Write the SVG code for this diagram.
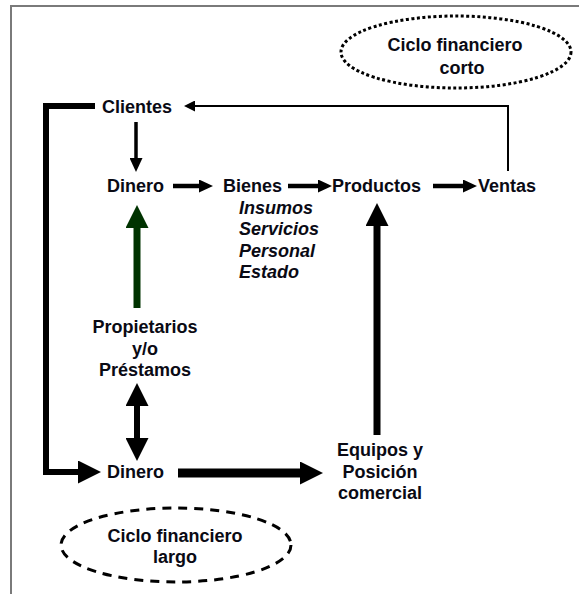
<svg xmlns="http://www.w3.org/2000/svg" width="579" height="594" viewBox="0 0 579 594">
  <style>
    .t { font-family: "Liberation Sans", Arial, sans-serif; font-weight: bold; font-size: 18px; fill: #0a0a14; }
    .i { font-style: italic; }
    .m { text-anchor: middle; }
    .ln { fill: none; stroke: #000; stroke-linejoin: miter; stroke-linecap: butt; }
    .ln.g { stroke: #003300; }
  </style>
  <defs>
    <marker id="hS" markerUnits="userSpaceOnUse" markerWidth="14" markerHeight="13" refX="0" refY="6.5" orient="auto">
      <path d="M0,0 L14,6.5 L0,13 z" fill="#000"/>
    </marker>
    <marker id="hT" markerUnits="userSpaceOnUse" markerWidth="11" markerHeight="11" refX="0" refY="5.5" orient="auto">
      <path d="M0,0 L11,5.5 L0,11 z" fill="#000"/>
    </marker>
    <marker id="hL" markerUnits="userSpaceOnUse" markerWidth="23" markerHeight="23" refX="0" refY="11.5" orient="auto-start-reverse">
      <path d="M0,0 L23,11.5 L0,23 z" fill="#000"/>
    </marker>
    <marker id="hG" markerUnits="userSpaceOnUse" markerWidth="23" markerHeight="23" refX="0" refY="11.5" orient="auto">
      <path d="M0,0 L23,11.5 L0,23 z" fill="#003300"/>
    </marker>
  </defs>
  <rect width="579" height="594" fill="#fff"/>
  <g id="frame">
    <path d="M11,594 L11,6 L579,6" fill="none" stroke="#7a7a7a" stroke-width="2"/>
  </g>
  <g id="connectors">
    <line class="ln" x1="136" y1="122" x2="136" y2="158" stroke-width="3.5" marker-end="url(#hS)"/>
    <line class="ln" x1="173" y1="186" x2="199" y2="186" stroke-width="4.5" marker-end="url(#hS)"/>
    <line class="ln" x1="288" y1="186" x2="318" y2="186" stroke-width="4.5" marker-end="url(#hS)"/>
    <line class="ln" x1="433" y1="186" x2="463" y2="186" stroke-width="4.5" marker-end="url(#hS)"/>
    <polyline class="ln" points="508,171 508,106 195,106" stroke-width="2" marker-end="url(#hT)"/>
    <line class="ln g" x1="137" y1="308" x2="137" y2="228" stroke-width="7" marker-end="url(#hG)"/>
    <line class="ln" x1="137" y1="406" x2="137" y2="438" stroke-width="6" marker-start="url(#hL)" marker-end="url(#hL)"/>
    <polyline class="ln" points="95,106 46,106 46,472 78,472" stroke-width="6" marker-end="url(#hL)"/>
    <line class="ln" x1="178" y1="473" x2="300" y2="473" stroke-width="9" marker-end="url(#hL)"/>
    <line class="ln" x1="377" y1="435" x2="377" y2="226" stroke-width="7" marker-end="url(#hL)"/>
  </g>
  <g id="ciclo-corto">
    <ellipse cx="456" cy="52" rx="115" ry="36" fill="none" stroke="#000" stroke-width="3" stroke-dasharray="3 2.5"/>
    <text class="t m" x="455" y="51">Ciclo financiero</text>
    <text class="t m" x="462" y="74">corto</text>
  </g>
  <g id="clientes"><text class="t" x="102" y="112.5">Clientes</text></g>
  <g id="dinero1"><text class="t" x="107" y="191.5">Dinero</text></g>
  <g id="bienes">
    <text class="t" x="223" y="191.5">Bienes</text>
    <text class="t i" x="239" y="214">Insumos</text>
    <text class="t i" x="239" y="235">Servicios</text>
    <text class="t i" x="239" y="256.5">Personal</text>
    <text class="t i" x="239" y="277.5">Estado</text>
  </g>
  <g id="productos"><text class="t" x="332" y="191.5">Productos</text></g>
  <g id="ventas"><text class="t" x="478" y="191.5">Ventas</text></g>
  <g id="propietarios">
    <text class="t m" x="145" y="333">Propietarios</text>
    <text class="t m" x="145" y="354.5">y/o</text>
    <text class="t m" x="145" y="376">Préstamos</text>
  </g>
  <g id="dinero2"><text class="t" x="107" y="478">Dinero</text></g>
  <g id="equipos">
    <text class="t m" x="380" y="456">Equipos y</text>
    <text class="t m" x="380" y="477.5">Posición</text>
    <text class="t m" x="380" y="499">comercial</text>
  </g>
  <g id="ciclo-largo">
    <ellipse cx="176" cy="545" rx="115" ry="37" fill="none" stroke="#000" stroke-width="3" stroke-dasharray="9 7"/>
    <text class="t m" x="175" y="542">Ciclo financiero</text>
    <text class="t m" x="175" y="563">largo</text>
  </g>
</svg>
